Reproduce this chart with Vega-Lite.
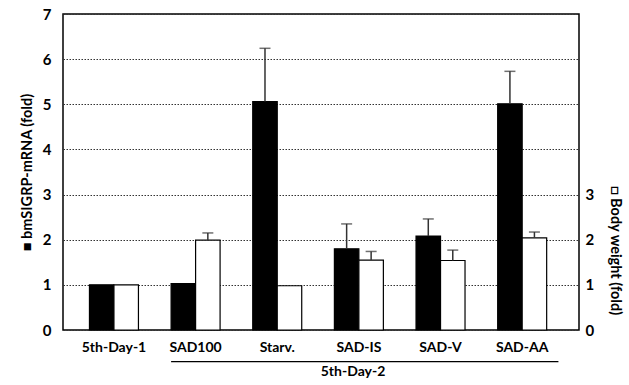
{
  "$schema": "https://vega.github.io/schema/vega-lite/v6.json",
  "width": 516,
  "height": 316,
  "autosize": "none",
  "padding": {"left": 63, "top": 14, "right": 50, "bottom": 55},
  "config": {
    "font": "Lato",
    "view": {"stroke": "#000", "strokeWidth": 1.5},
    "axis": {"labelFont": "Lato", "labelFontWeight": "bold", "titleFont": "Lato", "titleFontWeight": "bold", "labelColor": "#000", "titleColor": "#000"}
  },
  "datasets": {
    "bars": [
      {"group": "5th-Day-1", "measure": "mRNA", "value": 1.0, "upper": null},
      {"group": "5th-Day-1", "measure": "BW", "value": 1.0, "upper": null},
      {"group": "SAD100", "measure": "mRNA", "value": 1.03, "upper": null},
      {"group": "SAD100", "measure": "BW", "value": 1.99, "upper": 2.15},
      {"group": "Starv.", "measure": "mRNA", "value": 5.06, "upper": 6.24},
      {"group": "Starv.", "measure": "BW", "value": 0.98, "upper": null},
      {"group": "SAD-IS", "measure": "mRNA", "value": 1.8, "upper": 2.35},
      {"group": "SAD-IS", "measure": "BW", "value": 1.55, "upper": 1.74},
      {"group": "SAD-V", "measure": "mRNA", "value": 2.08, "upper": 2.46},
      {"group": "SAD-V", "measure": "BW", "value": 1.54, "upper": 1.77},
      {"group": "SAD-AA", "measure": "mRNA", "value": 5.01, "upper": 5.73},
      {"group": "SAD-AA", "measure": "BW", "value": 2.04, "upper": 2.17}
    ],
    "bracket": [
      {"from": "SAD100", "to": "SAD-AA", "label": "5th-Day-2"}
    ]
  },
  "resolve": {"scale": {"y": "shared"}, "axis": {"y": "independent"}},
  "layer": [
    {
      "data": {"name": "bars"},
      "mark": {"type": "bar", "stroke": "#000", "strokeWidth": 1.2},
      "encoding": {
        "x": {
          "field": "group", "type": "nominal", "sort": null,
          "scale": {"domain": ["5th-Day-1", "SAD100", "Starv.", "SAD-IS", "SAD-V", "SAD-AA"], "paddingInner": 0.4, "paddingOuter": 0.36, "align": 0.45},
          "axis": {"title": null, "labelAngle": 0, "ticks": false, "domain": false, "labelFontSize": 14, "labelPadding": 10}
        },
        "xOffset": {"field": "measure", "type": "nominal", "scale": {"domain": ["mRNA", "BW"], "paddingInner": 0, "paddingOuter": 0}},
        "y": {
          "field": "value", "type": "quantitative",
          "scale": {"domain": [0, 7], "nice": false},
          "axis": {"orient": "left", "values": [0, 1, 2, 3, 4, 5, 6, 7], "title": "■ bmSIGRP-mRNA (fold)", "grid": true, "gridDash": [1.5, 1.5], "gridColor": "#333", "gridWidth": 1, "ticks": false, "domain": false, "labelFontSize": 15, "labelPadding": 12, "titlePadding": 8, "titleFontSize": 14.5}
        },
        "fill": {"field": "measure", "type": "nominal", "scale": {"domain": ["mRNA", "BW"], "range": ["#000000", "#ffffff"]}, "legend": null}
      }
    },
    {
      "data": {"name": "bars"},
      "transform": [{"filter": "isValid(datum.upper)"}],
      "mark": {"type": "rule", "color": "#333", "strokeWidth": 1.5},
      "encoding": {
        "x": {"field": "group", "type": "nominal", "sort": null, "scale": {"domain": ["5th-Day-1", "SAD100", "Starv.", "SAD-IS", "SAD-V", "SAD-AA"]}},
        "xOffset": {"field": "measure", "type": "nominal", "scale": {"domain": ["mRNA", "BW"]}},
        "y": {
          "field": "value", "type": "quantitative",
          "scale": {"domain": [0, 7], "nice": false},
          "axis": {"orient": "right", "values": [0, 1, 2, 3], "title": "□ Body weight (fold)", "grid": false, "ticks": false, "domain": false, "labelFontSize": 15, "labelPadding": 6, "titlePadding": 14, "titleFontSize": 14.5, "titleY": 236}
        },
        "y2": {"field": "upper"}
      }
    },
    {
      "data": {"name": "bars"},
      "transform": [{"filter": "isValid(datum.upper)"}],
      "mark": {"type": "tick", "color": "#333", "thickness": 1.5, "size": 11},
      "encoding": {
        "x": {"field": "group", "type": "nominal", "sort": null, "scale": {"domain": ["5th-Day-1", "SAD100", "Starv.", "SAD-IS", "SAD-V", "SAD-AA"]}},
        "xOffset": {"field": "measure", "type": "nominal", "scale": {"domain": ["mRNA", "BW"]}},
        "y": {"field": "upper", "type": "quantitative", "scale": {"domain": [0, 7], "nice": false}, "axis": null}
      }
    },
    {
      "data": {"name": "bracket"},
      "mark": {"type": "rule", "color": "#000", "strokeWidth": 1.2},
      "encoding": {
        "x": {"field": "from", "type": "nominal", "bandPosition": 0, "scale": {"domain": ["5th-Day-1", "SAD100", "Starv.", "SAD-IS", "SAD-V", "SAD-AA"]}},
        "x2": {"field": "to", "bandPosition": 1.24},
        "y": {"datum": -0.7, "type": "quantitative", "scale": {"domain": [0, 7], "nice": false}, "axis": null}
      }
    },
    {
      "data": {"name": "bracket"},
      "mark": {"type": "text", "fontWeight": "bold", "fontSize": 14, "font": "Lato", "baseline": "middle", "align": "center", "color": "#000"},
      "encoding": {
        "x": {"datum": "SAD-IS", "type": "nominal", "bandPosition": 0.38, "scale": {"domain": ["5th-Day-1", "SAD100", "Starv.", "SAD-IS", "SAD-V", "SAD-AA"]}},
        "y": {"datum": -0.93, "type": "quantitative", "scale": {"domain": [0, 7], "nice": false}, "axis": null},
        "text": {"field": "label"}
      }
    }
  ]
}
